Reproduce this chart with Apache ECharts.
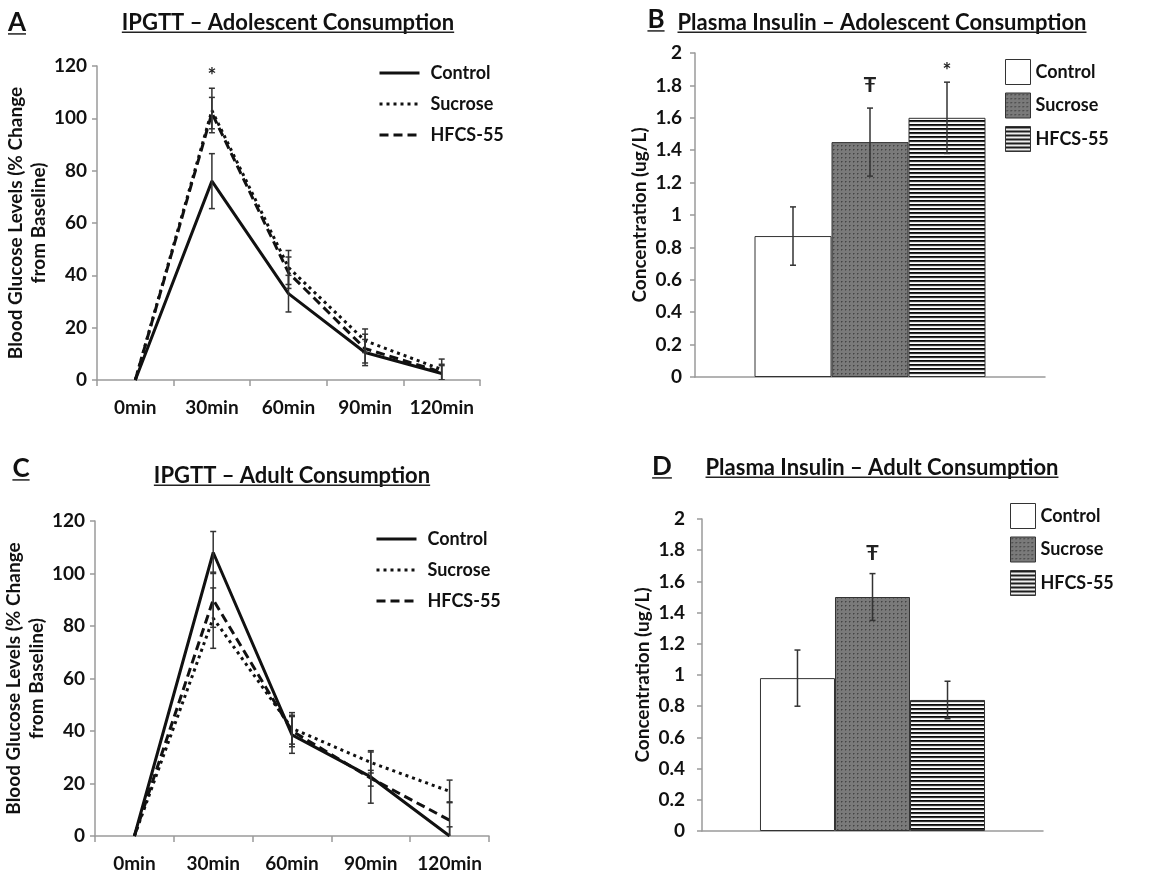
<!DOCTYPE html>
<html>
<head>
<meta charset="utf-8">
<script src="https://cdn.jsdelivr.net/npm/echarts@6/dist/echarts.min.js"></script>
<style>
html, body { margin: 0; background: #fff; }
#chart { width: 1167px; height: 876px; }
</style>
</head>
<body>
<div id="chart"></div>
<script>
const FONT = 'Lato';

// time points of the glucose test
const timePoints = ['0min', '30min', '60min', '90min', '120min'];

// A: IPGTT, adolescent consumption (% change, +/- error)
const adolControl = [0, 76, 33, 10.5, 2.5];
const adolControlErr = [0, 10.5, 7, 5, 3];
const adolSucrose = [0, 103, 43, 15, 4];
const adolSucroseErr = [0, 8.5, 6.5, 4.5, 4];
const adolHfcs = [0, 102, 41, 12, 3];
const adolHfcsErr = [0, 6, 6, 5.5, 3];

// C: IPGTT, adult consumption
const adultControl = [0, 108, 38.5, 22.5, 0];
const adultControlErr = [0, 8, 7, 10, 3.5];
const adultSucrose = [0, 83, 41, 28, 17];
const adultSucroseErr = [0, 11.5, 6, 4, 4.3];
const adultHfcs = [0, 90, 40, 22, 6];
const adultHfcsErr = [0, 10.5, 6, 3, 7];

// B / D: plasma insulin (ug/L)
const groups = ['Control', 'Sucrose', 'HFCS-55'];
const adolInsulin = [0.87, 1.45, 1.6];
const adolInsulinErr = [0.18, 0.21, 0.22];
const adultInsulin = [0.98, 1.5, 0.84];
const adultInsulinErr = [0.18, 0.15, 0.12];

// significance marks [x, y, text, group]
const adolGlucoseMarks = [[1, 116, '*', -1]];
const adolInsulinMarks = [[0, 1.8, 'Ŧ', 1], [0, 1.89, '*', 2]];
const adultInsulinMarks = [[0, 1.78, 'Ŧ', 1]];

const glucoseTicks = { min: 0, max: 120, interval: 20 };
const insulinTicks = { min: 0, max: 2, interval: 0.2 };

// 填充图案
function dotPattern() {
    const c = document.createElement('canvas');
    c.width = 4; c.height = 4;
    const g = c.getContext('2d');
    g.fillStyle = '#7a7a7a'; g.fillRect(0, 0, 4, 4);
    g.fillStyle = '#444'; g.fillRect(1, 1, 1, 1);
    g.fillStyle = '#5e5e5e'; g.fillRect(2, 1, 1, 1); g.fillRect(1, 2, 1, 1);
    return c;
}
function stripePattern() {
    const c = document.createElement('canvas');
    c.width = 4; c.height = 4;
    const g = c.getContext('2d');
    g.fillStyle = '#fff'; g.fillRect(0, 0, 4, 4);
    g.fillStyle = '#0a0a0a'; g.fillRect(0, 0, 4, 1);
    g.fillStyle = '#333'; g.fillRect(0, 1, 4, 1);
    g.fillStyle = '#ddd'; g.fillRect(0, 2, 4, 1);
    return c;
}
const barColors = ['#fff', { image: dotPattern(), repeat: 'repeat' }, { image: stripePattern(), repeat: 'repeat' }];
const lineTypes = ['solid', [3, 4], [9, 5]];

const measureCtx = document.createElement('canvas').getContext('2d');
function textWidth(text, font) {
    measureCtx.font = font;
    return measureCtx.measureText(text).width;
}

// underlined heading, cx = centre, cy = middle of the text
function heading(text, cx, cy, size) {
    const font = 'bold ' + size + 'px ' + FONT;
    const w = textWidth(text, font);
    const uy = cy + size * 0.42;
    return [
        { type: 'text', style: { text, x: cx, y: cy, font, fill: '#111', align: 'center', verticalAlign: 'middle' } },
        { type: 'line', shape: { x1: cx - w / 2, y1: uy, x2: cx + w / 2, y2: uy }, style: { stroke: '#222', lineWidth: 1.5 } }
    ];
}

function errRows(values, errs, k) {
    const rows = [];
    values.forEach((v, i) => {
        if (errs[i] > 0) rows.push([i, v - errs[i], v + errs[i], k]);
    });
    return rows;
}

// 误差线
function errorBarItem(params, api) {
    const x = api.value(0), lo = api.value(1), hi = api.value(2), k = api.value(3);
    const band = api.size([1, 0])[0];
    const dx = k < 0 ? 0 : (k - 1) * band * 0.66 / 3;
    const a = api.coord([x, lo]), b = api.coord([x, hi]);
    const cx = a[0] + dx, cap = 3;
    const style = { stroke: '#333', lineWidth: 1.5 };
    return {
        type: 'group',
        children: [
            { type: 'line', shape: { x1: cx, y1: a[1], x2: cx, y2: b[1] }, style },
            { type: 'line', shape: { x1: cx - cap, y1: a[1], x2: cx + cap, y2: a[1] }, style },
            { type: 'line', shape: { x1: cx - cap, y1: b[1], x2: cx + cap, y2: b[1] }, style }
        ]
    };
}

function markSeries(marks, gi) {
    return {
        type: 'custom', xAxisIndex: gi, yAxisIndex: gi, z: 5, silent: true,
        data: marks.map(m => [m[0], m[1], m[3]]),
        renderItem: (params, api) => {
            const m = marks[params.dataIndex];
            const band = api.size([1, 0])[0];
            const dx = m[3] < 0 ? 0 : (m[3] - 1) * band * 0.66 / 3;
            const p = api.coord([m[0], m[1]]);
            return { type: 'text', style: { text: m[2], x: p[0] + dx, y: p[1], font: 'bold 21px ' + FONT, fill: '#222', align: 'center', verticalAlign: 'middle' } };
        }
    };
}

function errSeries(rows, gi) {
    return { type: 'custom', xAxisIndex: gi, yAxisIndex: gi, z: 4, silent: true, clip: true, data: rows, encode: { x: 0, y: [1, 2] }, renderItem: errorBarItem };
}

function lineSeries(name, data, gi, k) {
    return {
        type: 'line', name, data, xAxisIndex: gi, yAxisIndex: gi, symbol: 'none', z: 3,
        lineStyle: { color: '#111', width: 3, type: lineTypes[k] },
        itemStyle: { color: '#111' }
    };
}

function barSeries(name, value, gi, k) {
    return {
        type: 'bar', name, data: [value], xAxisIndex: gi, yAxisIndex: gi,
        barGap: '0%', barCategoryGap: '34%',
        itemStyle: { color: barColors[k], borderColor: '#333', borderWidth: 1 }
    };
}

const labelStyle = { color: '#111', fontFamily: FONT, fontWeight: 'bold', fontSize: 19 };
const axisLine = { show: true, lineStyle: { color: '#9a9a9a', width: 1.5 } };
const tick = { show: true, length: 5, lineStyle: { color: '#9a9a9a', width: 1.5 } };

function yAxis(gi, ticks, name, nameGap, margin) {
    return Object.assign({
        type: 'value', gridIndex: gi, name, nameLocation: 'middle', nameRotate: 90, nameGap,
        nameTextStyle: { color: '#111', fontFamily: FONT, fontWeight: 'bold', fontSize: 19, lineHeight: 23 },
        axisLine, axisTick: tick, splitLine: { show: false },
        axisLabel: Object.assign({ margin }, labelStyle)
    }, ticks);
}

function timeAxis(gi) {
    return {
        type: 'category', gridIndex: gi, data: timePoints, axisLine,
        axisTick: { show: true, length: 6, interval: 0, lineStyle: tick.lineStyle },
        axisLabel: Object.assign({ margin: 18, interval: 0 }, labelStyle)
    };
}

const glucoseName = 'Blood Glucose Levels (% Change\nfrom Baseline)';
const insulinName = 'Concentration (ug/L)';

const lineLegend = {
    orient: 'vertical', itemWidth: 40, itemHeight: 14, itemGap: 13,
    textStyle: { color: '#111', fontFamily: FONT, fontWeight: 'bold', fontSize: 18, padding: [0, 0, 0, 6] },
    itemStyle: { color: 'rgba(0,0,0,0)', borderWidth: 0 },
    lineStyle: { width: 3 }
};
const barLegend = {
    orient: 'vertical', icon: 'rect', itemWidth: 25, itemHeight: 25, itemGap: 7.5,
    textStyle: { color: '#111', fontFamily: FONT, fontWeight: 'bold', fontSize: 18 },
    data: groups.map((g, k) => ({ name: g, itemStyle: { color: barColors[k], borderColor: '#333', borderWidth: 1 } }))
};

const option = {
    animation: false,
    backgroundColor: '#fff',
    grid: [
        { left: 97, right: 687, top: 66, bottom: 496, outerBoundsMode: 'none' },
        { left: 695, right: 122, top: 53, bottom: 499, outerBoundsMode: 'none' },
        { left: 95, right: 678, top: 521, bottom: 40, outerBoundsMode: 'none' },
        { left: 702, right: 124, top: 519, bottom: 45, outerBoundsMode: 'none' }
    ],
    xAxis: [
        timeAxis(0),
        { type: 'category', gridIndex: 1, data: [''], axisLine, axisTick: { show: false }, axisLabel: { show: false } },
        timeAxis(2),
        { type: 'category', gridIndex: 3, data: [''], axisLine, axisTick: { show: false }, axisLabel: { show: false } }
    ],
    yAxis: [
        yAxis(0, glucoseTicks, glucoseName, 42, 10),
        yAxis(1, insulinTicks, insulinName, 38, 13),
        yAxis(2, glucoseTicks, glucoseName, 40, 10),
        yAxis(3, insulinTicks, insulinName, 45, 17)
    ],
    legend: [
        Object.assign({ left: 373, top: 59, data: groups }, lineLegend),
        Object.assign({ left: 1000, top: 54 }, barLegend),
        Object.assign({ left: 370, top: 525, data: groups }, lineLegend),
        Object.assign({ left: 1005, top: 498 }, barLegend)
    ],
    graphic: [].concat(
        heading('A', 17, 23, 26),
        heading('IPGTT – Adolescent Consumption', 288, 23, 22),
        heading('B', 656, 20, 26),
        heading('Plasma Insulin – Adolescent Consumption', 882, 23, 22),
        heading('C', 21, 469, 26),
        heading('IPGTT – Adult Consumption', 292, 476, 22),
        heading('D', 662, 467, 26),
        heading('Plasma Insulin – Adult Consumption', 882, 468, 22)
    ),
    series: [
        lineSeries('Control', adolControl, 0, 0),
        lineSeries('Sucrose', adolSucrose, 0, 1),
        lineSeries('HFCS-55', adolHfcs, 0, 2),
        errSeries([].concat(errRows(adolControl, adolControlErr, -1), errRows(adolSucrose, adolSucroseErr, -1), errRows(adolHfcs, adolHfcsErr, -1)), 0),
        markSeries(adolGlucoseMarks, 0),

        barSeries('Control', adolInsulin[0], 1, 0),
        barSeries('Sucrose', adolInsulin[1], 1, 1),
        barSeries('HFCS-55', adolInsulin[2], 1, 2),
        errSeries(adolInsulin.map((v, k) => [0, v - adolInsulinErr[k], v + adolInsulinErr[k], k]), 1),
        markSeries(adolInsulinMarks, 1),

        lineSeries('Control', adultControl, 2, 0),
        lineSeries('Sucrose', adultSucrose, 2, 1),
        lineSeries('HFCS-55', adultHfcs, 2, 2),
        errSeries([].concat(errRows(adultControl, adultControlErr, -1), errRows(adultSucrose, adultSucroseErr, -1), errRows(adultHfcs, adultHfcsErr, -1)), 2),

        barSeries('Control', adultInsulin[0], 3, 0),
        barSeries('Sucrose', adultInsulin[1], 3, 1),
        barSeries('HFCS-55', adultInsulin[2], 3, 2),
        errSeries(adultInsulin.map((v, k) => [0, v - adultInsulinErr[k], v + adultInsulinErr[k], k]), 3),
        markSeries(adultInsulinMarks, 3)
    ]
};

const myChart = echarts.init(document.getElementById('chart'));
myChart.setOption(option);
</script>
</body>
</html>
